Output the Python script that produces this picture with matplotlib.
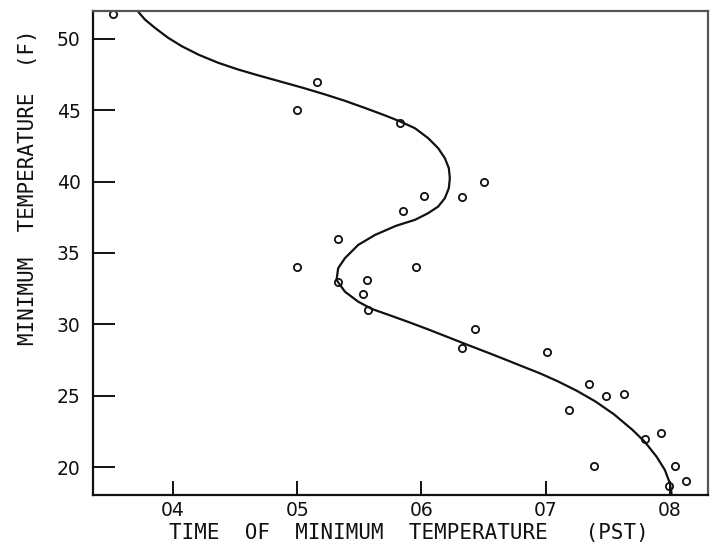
import matplotlib
matplotlib.use("Agg")
import matplotlib.pyplot as plt

# Observed time (hours, PST) and minimum temperature (F)
obs_time = [3.52, 5.16, 5.00, 5.83, 6.50, 6.02, 6.33, 5.85, 5.33, 5.00,
            5.96, 5.56, 5.33, 5.53, 5.57, 6.43, 6.33, 7.01, 7.35, 7.49,
            7.63, 7.19, 7.80, 7.93, 7.39, 8.04, 8.13, 7.99]
obs_temp = [51.75, 47.0, 45.0, 44.1, 40.0, 39.0, 38.9, 37.95, 36.0, 34.0,
            34.0, 33.1, 33.0, 32.1, 31.0, 29.7, 28.35, 28.07, 25.8, 25.0,
            25.1, 24.0, 22.0, 22.4, 20.07, 20.1, 19.0, 18.7]

# Smoothed relation drawn through the observations
fit_time = [3.721, 3.775, 3.855, 3.962, 4.070, 4.204, 4.365, 4.526, 4.687,
            4.861, 5.046, 5.223, 5.384, 5.545, 5.706, 5.827, 5.948, 6.055,
            6.135, 6.189, 6.221, 6.229, 6.221, 6.189, 6.135, 6.055, 5.948,
            5.795, 5.626, 5.491, 5.384, 5.330, 5.317, 5.384, 5.491, 5.600,
            5.750, 5.900, 6.050, 6.200, 6.366, 6.551, 6.700, 6.817, 6.954,
            7.100, 7.250, 7.400, 7.550, 7.700, 7.800, 7.893, 7.960, 8.000,
            8.014]
fit_temp = [51.89, 51.35, 50.77, 50.07, 49.49, 48.90, 48.32, 47.85, 47.44,
            47.02, 46.57, 46.11, 45.66, 45.16, 44.64, 44.22, 43.74, 43.04,
            42.34, 41.64, 40.94, 40.24, 39.54, 38.84, 38.25, 37.79, 37.32,
            36.90, 36.26, 35.56, 34.63, 33.93, 33.11, 32.29, 31.59, 31.08,
            30.62, 30.15, 29.66, 29.15, 28.58, 27.96, 27.45, 27.04, 26.57,
            26.00, 25.35, 24.60, 23.70, 22.60, 21.75, 20.73, 19.80, 18.87,
            18.16]

xticks = [4, 5, 6, 7, 8]
xtick_labels = ["04", "05", "06", "07", "08"]
yticks = [20, 25, 30, 35, 40, 45, 50]

fig = plt.figure(figsize=(7.15, 5.44), dpi=100)
ax = fig.add_axes([0.130, 0.090, 0.860, 0.890])

ax.plot(fit_time, fit_temp, color="#111111", lw=1.6,
        solid_capstyle="round", solid_joinstyle="round")
ax.plot(obs_time, obs_temp, linestyle="none", marker="o", markersize=5.2,
        markerfacecolor="none", markeredgecolor="#111111", markeredgewidth=1.3)

ax.set_xlim(3.356, 8.306)
ax.set_ylim(18.04, 51.96)

ax.set_xticks(xticks)
ax.set_xticklabels(xtick_labels)
ax.set_yticks(yticks)

ax.tick_params(axis="x", direction="in", length=10, width=1.4, pad=4,
               labelsize=13.5, colors="#111111", top=False)
ax.tick_params(axis="y", direction="in", length=16, width=1.4, pad=9,
               labelsize=13.5, colors="#111111", right=False)

for side in ("left", "bottom"):
    ax.spines[side].set_linewidth(1.6)
    ax.spines[side].set_color("#111111")
for side in ("top", "right"):
    ax.spines[side].set_linewidth(1.6)
    ax.spines[side].set_color("#555555")

label_font = dict(family="DejaVu Sans Mono", fontsize=15, color="#111111")
ax.set_xlabel("TIME  OF  MINIMUM  TEMPERATURE   (PST)", **label_font)
ax.xaxis.set_label_coords(0.514, -0.078)
ax.set_ylabel("MINIMUM  TEMPERATURE  (F)", **label_font)
ax.yaxis.set_label_coords(-0.106, 0.636)
ax.xaxis.label.set_va("center")
ax.yaxis.label.set_va("center")

fig.savefig("out.png", dpi=100, facecolor="white")
